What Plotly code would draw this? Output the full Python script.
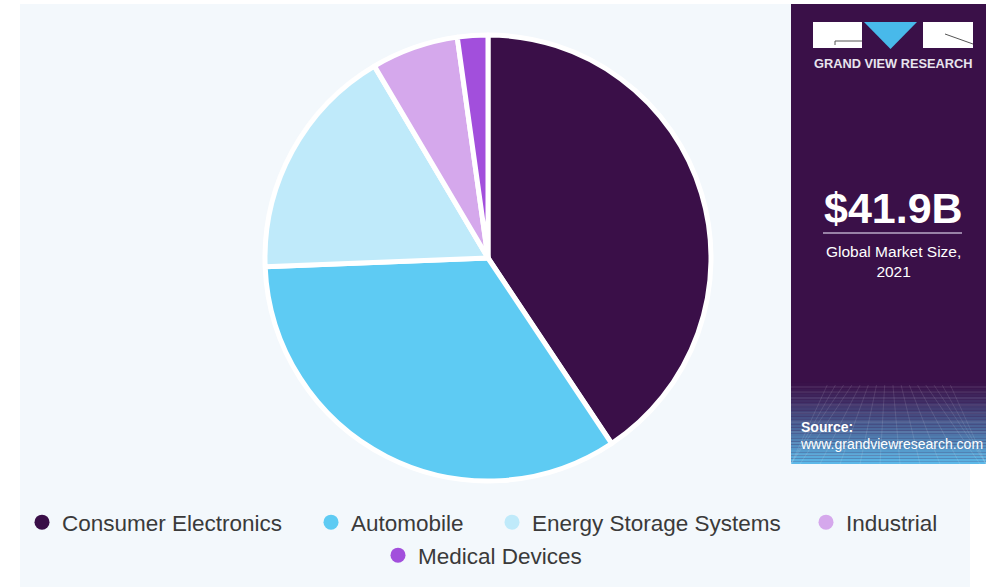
import plotly.graph_objects as go

W, H = 986, 587

categories = ["Consumer Electronics", "Automobile", "Energy Storage Systems", "Industrial", "Medical Devices"]
shares = [40.6, 33.7, 17.1, 6.3, 2.2]
colors = ["#3a0f48", "#5ecbf3", "#bfeafa", "#d5a8ec", "#a24fdc"]

market_size = "$41.9B"
market_label = "Global Market Size,<br>2021"
brand = "GRAND VIEW RESEARCH"
source_label = "Source:"
source_url = "www.grandviewresearch.com"


def px(x):
    return x / W


def py(y):
    return 1 - y / H


fig = go.Figure()

cx, cy, r = 488, 258, 223
fig.add_trace(go.Pie(
    labels=categories, values=shares, sort=False, direction="clockwise", rotation=0,
    marker=dict(colors=colors, line=dict(color="white", width=5)),
    textinfo="none", showlegend=False,
    domain=dict(x=[px(cx - r), px(cx + r)], y=[py(cy + r), py(cy - r)]),
))

legend_names = ["legend", "legend2", "legend3", "legend4", "legend5"]
# legend anchor positions (marker centre x, row centre y) in pixels
leg_pos = [(42, 522), (331, 522), (512, 522), (826, 522), (398, 555)]

for name, col, lg in zip(categories, colors, legend_names):
    fig.add_trace(go.Scatter(
        x=[None], y=[None], mode="markers", name=name, legend=lg,
        marker=dict(symbol="circle", size=15, color=col),
    ))

shapes = []
# light background
shapes.append(dict(type="rect", xref="paper", yref="paper", x0=px(20), x1=px(970), y0=0, y1=py(4),
                   fillcolor="#f3f8fc", line=dict(width=0), layer="below"))
# sidebar
sb_x0, sb_x1, sb_y0, sb_y1 = 791, 986, 4, 464
shapes.append(dict(type="rect", xref="paper", yref="paper", x0=px(sb_x0), x1=px(sb_x1), y0=py(sb_y1), y1=py(sb_y0),
                   fillcolor="#3a1048", line=dict(width=0), layer="below"))
# gradient at bottom of sidebar
g_top, g_bot = 380, 464
n = 30
c0 = (58, 16, 72)
c1 = (92, 184, 232)
for i in range(n):
    t = i / (n - 1)
    t2 = t ** 1.2
    c = tuple(int(c0[k] + (c1[k] - c0[k]) * t2) for k in range(3))
    y0 = g_top + (g_bot - g_top) * i / n
    y1 = g_top + (g_bot - g_top) * (i + 1) / n
    shapes.append(dict(type="rect", xref="paper", yref="paper", x0=px(sb_x0), x1=px(sb_x1),
                       y0=py(y1), y1=py(y0), fillcolor="rgb(%d,%d,%d)" % c, line=dict(width=0), layer="below"))
# perspective grid
for yy in [387, 392, 398, 405, 413, 422, 432, 443, 455]:
    shapes.append(dict(type="line", xref="paper", yref="paper", x0=px(sb_x0), x1=px(sb_x1), y0=py(yy), y1=py(yy),
                       line=dict(color="rgba(255,255,255,0.13)", width=1), layer="below"))
vx, vy = 888, 330
for xb in range(740, 1050, 20):
    def xat(y):
        return vx + (xb - vx) * (y - vy) / (g_bot - vy)
    xa, xb2 = xat(385), xat(g_bot)
    shapes.append(dict(type="line", xref="paper", yref="paper", x0=px(max(sb_x0, min(sb_x1, xa))), y0=py(385),
                       x1=px(max(sb_x0, min(sb_x1, xb2))), y1=py(g_bot),
                       line=dict(color="rgba(255,255,255,0.11)", width=1), layer="below"))
# logo
shapes.append(dict(type="rect", xref="paper", yref="paper", x0=px(813), x1=px(862), y0=py(48), y1=py(22),
                   fillcolor="white", line=dict(width=0)))
shapes.append(dict(type="path", xref="paper", yref="paper",
                   path="M %f,%f L %f,%f L %f,%f Z" % (px(864), py(22), px(917), py(22), px(890.5), py(49)),
                   fillcolor="#48b9ea", line=dict(width=0)))
shapes.append(dict(type="rect", xref="paper", yref="paper", x0=px(923), x1=px(973), y0=py(48), y1=py(22),
                   fillcolor="white", line=dict(width=0)))
shapes.append(dict(type="line", xref="paper", yref="paper", x0=px(835), x1=px(862), y0=py(41), y1=py(41),
                   line=dict(color="#555", width=1)))
shapes.append(dict(type="line", xref="paper", yref="paper", x0=px(835), x1=px(835), y0=py(41), y1=py(45),
                   line=dict(color="#555", width=1)))
shapes.append(dict(type="line", xref="paper", yref="paper", x0=px(945), x1=px(973), y0=py(34), y1=py(44),
                   line=dict(color="#555", width=1)))
# separator line
shapes.append(dict(type="line", xref="paper", yref="paper", x0=px(823), x1=px(962), y0=py(233), y1=py(233),
                   line=dict(color="#b9a9c6", width=1.5)))

annotations = [
    dict(text="<b>%s</b>" % brand, x=px(893), y=py(64), xref="paper", yref="paper",
         xanchor="center", yanchor="middle", showarrow=False,
         font=dict(family="Liberation Sans", size=12.8, color="#e8e4ee")),
    dict(text="<b>%s</b>" % market_size, x=px(893), y=py(208), xref="paper", yref="paper",
         xanchor="center", yanchor="middle", showarrow=False,
         font=dict(family="Liberation Sans", size=43, color="white")),
    dict(text=market_label, x=px(893), y=py(261), xref="paper", yref="paper",
         xanchor="center", yanchor="middle", showarrow=False,
         font=dict(family="Liberation Sans", size=15.5, color="white")),
    dict(text="<b>%s</b>" % source_label, x=px(799), y=py(427), xref="paper", yref="paper",
         xanchor="left", yanchor="middle", showarrow=False,
         font=dict(family="Liberation Sans", size=14, color="white")),
    dict(text=source_url, x=px(798), y=py(444), xref="paper", yref="paper",
         xanchor="left", yanchor="middle", showarrow=False,
         font=dict(family="Liberation Sans", size=14, color="white")),
]

layout_legends = {}
for lg, (mx, my) in zip(legend_names, leg_pos):
    layout_legends[lg] = dict(
        orientation="h", x=px(mx - 20), xanchor="left", y=py(my - 21), yanchor="top",
        font=dict(family="Liberation Sans", size=22.5, color="#3a3a3a"),
        bgcolor="rgba(0,0,0,0)", itemclick=False, itemdoubleclick=False,
    )

fig.update_layout(
    width=W, height=H,
    margin=dict(l=0, r=0, t=0, b=0),
    paper_bgcolor="white", plot_bgcolor="rgba(0,0,0,0)",
    xaxis=dict(visible=False), yaxis=dict(visible=False),
    shapes=shapes, annotations=annotations,
    hovermode=False,
    **layout_legends,
)

fig.write_html("out.html", config={"displayModeBar": False},
               post_script="document.body.style.margin='0';document.body.style.overflow='hidden';")
